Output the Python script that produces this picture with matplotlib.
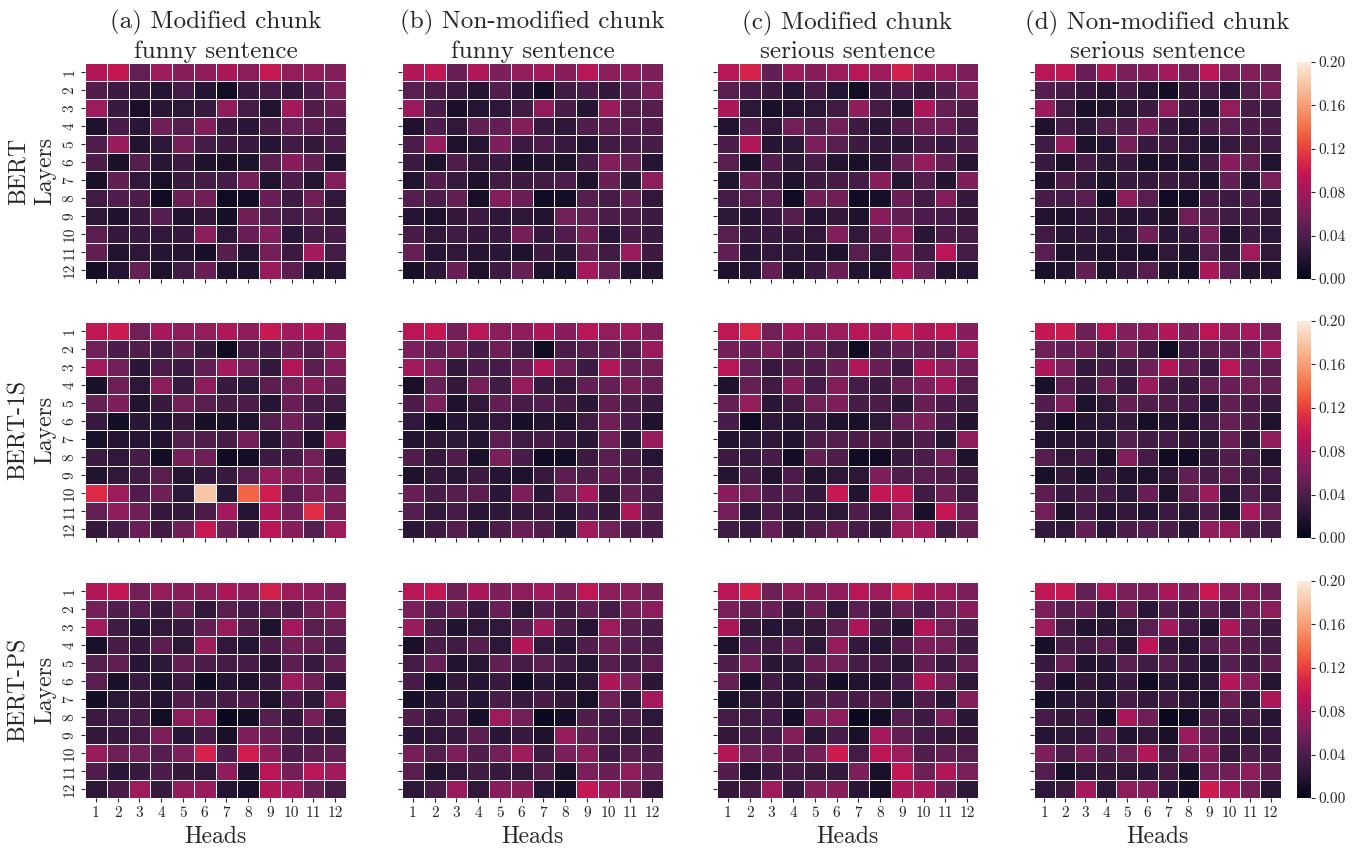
import numpy as np
import matplotlib
matplotlib.use("Agg")
import matplotlib.pyplot as plt
import seaborn as sns

plt.rcParams['font.family'] = ['cmr10', 'DejaVu Serif']
plt.rcParams['axes.unicode_minus'] = False

#Attention values per layer (rows) and head (columns), in units of 0.001
bert_a = [[88,96,52,78,68,72,84,70,98,74,74,66],
          [42,32,28,20,36,20,10,30,36,28,40,62],
          [78,30,14,22,24,30,72,36,18,80,42,54],
          [17,38,22,56,44,66,30,22,38,52,48,38],
          [42,76,18,24,60,36,32,30,20,34,28,40],
          [40,14,44,22,32,16,14,16,46,68,50,18],
          [14,50,26,14,30,36,36,60,18,40,20,66],
          [34,42,40,8,54,56,8,11,54,32,56,26],
          [24,16,30,44,18,28,12,56,44,36,44,26],
          [48,28,30,26,28,70,24,54,66,22,36,38],
          [50,18,24,20,20,13,44,20,60,32,80,36],
          [11,20,52,15,34,54,17,16,76,48,18,20]]
bert_b = [[88,94,54,86,64,74,80,68,90,70,72,64],
          [46,40,32,20,42,22,11,34,38,28,44,62],
          [76,38,14,20,24,34,72,38,20,76,44,44],
          [17,40,26,50,50,66,30,24,42,48,44,42],
          [40,74,15,20,64,32,40,30,20,34,36,38],
          [32,15,42,26,30,14,18,15,38,66,52,20],
          [18,42,30,16,34,32,34,40,16,54,22,70],
          [44,40,50,12,66,54,8,10,44,36,50,26],
          [20,15,28,32,24,24,18,58,52,40,40,32],
          [38,26,34,28,30,60,28,42,62,22,38,30],
          [52,20,26,20,22,15,32,22,54,34,76,32],
          [13,22,54,15,32,52,15,14,82,52,18,18]]
bert_c = [[90,106,50,78,68,78,90,78,104,80,78,64],
          [46,38,32,20,36,20,10,30,38,28,42,62],
          [84,24,14,20,24,34,72,36,18,84,52,42],
          [18,42,26,58,44,58,32,22,42,56,56,36],
          [40,86,20,24,62,46,32,28,22,36,30,42],
          [46,14,42,24,36,18,14,20,52,74,50,20],
          [18,54,32,16,32,38,36,68,20,44,19,64],
          [36,46,46,9,56,56,9,12,54,34,66,28],
          [24,20,30,44,20,28,16,68,50,40,38,28],
          [46,30,30,28,26,66,26,54,74,22,40,36],
          [50,22,26,24,20,16,46,24,68,34,90,36],
          [15,20,50,16,30,54,18,15,84,52,18,20]]
bert_d = [[90,94,54,88,62,68,80,60,92,66,66,58],
          [44,36,30,20,38,20,11,28,36,22,44,60],
          [76,34,14,18,24,32,70,30,19,74,38,34],
          [17,36,24,44,42,64,30,20,40,46,40,40],
          [34,72,16,20,60,30,34,26,18,30,34,34],
          [30,15,38,24,30,14,17,16,36,68,52,18],
          [17,40,26,16,30,28,32,28,16,50,20,62],
          [38,36,46,11,70,46,9,12,38,32,40,22],
          [18,15,24,28,20,22,16,56,44,34,34,26],
          [34,22,28,24,24,56,22,30,62,18,32,24],
          [46,18,22,18,18,14,26,18,46,28,78,26],
          [14,18,50,16,30,46,16,14,84,48,18,16]]

bert1s_a = [[94,100,58,82,72,74,86,72,98,80,88,68],
            [58,40,42,34,50,30,8,36,38,54,44,72],
            [80,58,22,40,32,50,80,58,26,86,46,64],
            [14,56,24,70,30,70,30,24,48,58,68,50],
            [52,64,18,30,58,46,38,40,20,54,36,34],
            [30,10,22,18,28,13,14,16,44,58,38,14],
            [14,20,20,19,44,42,38,58,20,42,16,72],
            [32,26,38,11,60,56,9,10,32,38,58,20],
            [18,26,34,46,20,28,30,44,74,66,62,30],
            [110,78,42,56,24,180,22,135,102,48,66,62],
            [52,72,56,28,28,40,82,20,86,60,112,64],
            [28,36,54,34,56,98,54,30,92,68,44,78]]
bert1s_b = [[92,96,60,90,70,72,84,68,90,74,80,66],
            [62,52,56,36,56,34,9,40,46,50,46,76],
            [80,66,28,40,36,54,86,56,32,86,52,56],
            [14,52,28,60,34,74,30,26,50,52,60,52],
            [40,62,16,26,50,38,42,38,22,50,40,30],
            [26,10,20,20,26,13,18,15,34,56,38,16],
            [18,24,24,20,46,34,38,32,22,58,22,76],
            [42,28,42,14,62,38,9,10,32,46,38,20],
            [16,28,22,32,20,17,30,48,42,50,40,36],
            [54,38,44,48,22,62,22,58,82,28,50,38],
            [44,26,38,22,24,28,32,20,38,28,84,42],
            [22,32,44,24,40,54,42,22,78,58,40,38]]
bert1s_c = [[94,108,58,82,72,78,90,82,102,86,94,68],
            [60,54,62,40,52,36,8,40,50,50,46,80],
            [90,52,30,42,40,54,86,54,32,88,70,56],
            [16,52,34,68,36,66,36,32,52,64,82,44],
            [52,74,22,34,58,62,38,40,22,54,40,34],
            [38,8,24,20,30,16,14,24,52,64,38,19],
            [18,24,24,18,40,44,40,40,28,42,22,70],
            [32,30,38,11,50,42,9,9,30,40,60,16],
            [20,38,18,40,18,24,24,64,42,46,42,34],
            [68,58,40,44,28,98,18,95,96,34,56,34],
            [58,24,40,24,30,24,42,26,70,14,96,54],
            [34,30,52,28,42,54,36,30,78,82,34,50]]
bert1s_d = [[96,100,56,92,66,72,88,64,92,76,82,62],
            [58,50,56,36,58,34,9,36,48,50,48,80],
            [84,62,26,38,34,56,86,50,32,90,52,48],
            [14,48,30,56,30,76,36,28,52,54,58,52],
            [42,62,15,26,52,42,42,38,20,50,40,30],
            [26,9,20,24,28,12,18,17,36,52,40,16],
            [18,22,22,24,44,34,36,28,24,54,24,72],
            [44,26,38,14,66,36,8,9,28,42,38,16],
            [14,28,14,30,18,15,26,50,38,48,34,36],
            [48,30,40,38,24,54,15,52,76,22,44,26],
            [58,16,36,20,28,20,32,24,40,15,82,52],
            [28,26,50,24,40,44,40,22,72,74,42,34]]

bertps_a = [[88,96,58,74,68,70,84,72,104,78,72,64],
            [60,42,44,30,52,26,48,36,46,40,58,66],
            [80,34,20,26,30,50,76,42,16,80,46,52],
            [14,38,28,48,24,78,26,20,40,56,52,36],
            [44,50,20,24,50,40,36,38,20,48,30,52],
            [46,14,30,16,32,9,20,15,30,78,56,22],
            [11,24,28,20,42,38,38,42,15,40,24,70],
            [32,34,36,10,70,72,6,10,44,28,60,24],
            [28,30,36,62,22,38,14,64,54,36,30,28],
            [76,56,58,44,62,106,40,102,72,40,48,50],
            [42,22,30,40,28,26,72,17,92,60,90,80],
            [24,38,78,30,72,76,20,14,86,82,52,36]]
bertps_b = [[90,96,56,84,64,70,80,64,94,70,70,60],
            [62,44,50,28,54,24,42,34,50,36,60,70],
            [76,38,18,24,26,44,80,40,20,78,44,38],
            [14,38,34,44,24,88,26,20,42,56,44,40],
            [36,52,18,22,50,36,46,34,20,44,34,48],
            [38,12,28,20,30,9,22,15,24,84,62,22],
            [13,22,30,20,38,30,38,28,14,58,24,82],
            [42,30,40,13,78,58,6,11,42,36,42,24],
            [22,26,30,48,22,30,15,74,50,36,26,32],
            [60,44,62,42,58,78,32,62,70,32,44,38],
            [46,18,26,34,30,26,44,14,62,54,72,52],
            [24,36,76,26,68,68,20,12,96,76,60,26]]
bertps_c = [[92,104,56,74,68,72,90,78,106,84,78,62],
            [62,50,54,28,52,24,48,30,52,40,58,68],
            [84,28,20,24,28,48,84,38,18,86,58,42],
            [15,40,34,50,24,74,28,20,42,62,58,32],
            [42,58,22,24,54,58,36,38,22,50,32,52],
            [52,13,34,20,32,11,18,17,36,86,58,24],
            [14,24,28,18,38,42,38,42,18,42,22,66],
            [36,34,36,11,64,70,5,11,44,32,62,22],
            [28,34,36,66,22,36,14,80,50,36,28,28],
            [88,58,56,42,60,100,36,92,78,42,50,46],
            [42,20,30,36,30,28,62,14,96,56,86,62],
            [28,36,78,30,66,68,22,12,84,84,54,24]]
bertps_d = [[94,98,52,86,62,64,84,64,98,72,70,56],
            [62,44,50,26,54,22,42,28,50,34,58,70],
            [78,36,18,22,24,46,80,36,18,84,44,32],
            [13,38,36,48,20,92,28,18,44,54,42,38],
            [30,52,18,22,46,34,44,30,18,44,32,48],
            [38,13,28,20,30,9,22,16,26,88,66,20],
            [13,22,26,20,36,28,34,26,15,56,24,84],
            [36,28,38,11,84,56,5,10,40,32,36,20],
            [20,24,26,50,18,26,14,76,48,30,22,30],
            [64,40,62,42,56,86,34,60,68,28,40,32],
            [44,14,24,28,24,22,38,13,60,56,70,50],
            [24,32,82,24,70,68,22,11,100,82,60,20]]

heads = [1,2,3,4,5,6,7,8,9,10,11,12]
layers = [1,2,3,4,5,6,7,8,9,10,11,12]
cbar_ticks = [0.00,0.04,0.08,0.12,0.16,0.20]
titles = ["(a) Modified chunk\nfunny sentence", "(b) Non-modified chunk\nfunny sentence",
          "(c) Modified chunk\nserious sentence", "(d) Non-modified chunk\nserious sentence"]
models = ["BERT", "BERT-1S", "BERT-PS"]
panels = [[bert_a, bert_b, bert_c, bert_d],
          [bert1s_a, bert1s_b, bert1s_c, bert1s_d],
          [bertps_a, bertps_b, bertps_c, bertps_d]]

W, H = 1356, 849
lefts = [85, 402, 717, 1034]                                                #Panel left edges in pixels
widths = [261, 261, 261, 247]                                               #Last column gives room to the colorbar
tops = [63, 322, 582]                                                       #Panel top edges in pixels
ph = 216

def px_axes(fig, x, y, w, h):
    """Returns an axes placed with pixel coordinates measured from the top left"""
    return fig.add_axes([x/W, 1-(y+h)/H, w/W, h/H])

fig = plt.figure(figsize=(W/100, H/100), dpi=100)

for i in range(3):
    cax = px_axes(fig, 1297, tops[i]-1, 14, ph+1)
    for j in range(4):
        ax = px_axes(fig, lefts[j], tops[i], widths[j], ph)
        sns.heatmap(np.array(panels[i][j])/1000, ax=ax, vmin=0, vmax=0.2, linewidths=0.5,
                    cbar=(j == 3), cbar_ax=cax if j == 3 else None,
                    xticklabels=heads, yticklabels=layers,
                    cbar_kws={'ticks': cbar_ticks})
        ax.tick_params(axis='both', length=3, width=0.8, labelsize=11, pad=3, colors='#262626')
        ax.set_yticklabels(layers, rotation=90, va='center')
        ax.set_xticklabels(heads, rotation=0)
        if j > 0:
            ax.tick_params(axis='y', labelleft=False)
        else:
            ax.set_ylabel(models[i] + "\nLayers", fontsize=17, labelpad=5, linespacing=1.25, color='#262626')
        if i < 2:
            ax.tick_params(axis='x', labelbottom=False)
        else:
            ax.set_xlabel("Heads", fontsize=17, labelpad=4, color='#262626')
        if i == 0:
            ax.set_title(titles[j], fontsize=18.1, pad=2, linespacing=1.3, color='#262626')
    cax.tick_params(length=3, width=0.8, labelsize=11, pad=2, colors='#262626')
    cax.set_yticklabels(["%.2f" % t for t in cbar_ticks])

fig.savefig("out.png", dpi=100)
